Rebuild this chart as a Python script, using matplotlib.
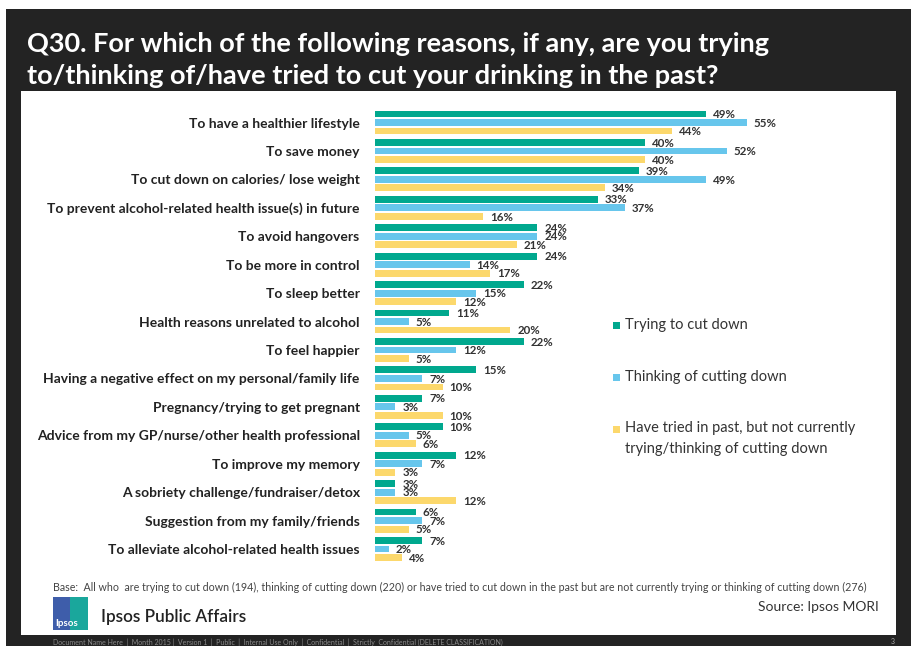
import matplotlib
matplotlib.use("Agg")
import matplotlib.pyplot as plt
from matplotlib.patches import Rectangle
import numpy as np

plt.rcParams['font.family'] = ['Lato', 'DejaVu Sans']

categories = [
    "To have a healthier lifestyle",
    "To save money",
    "To cut down on calories/ lose weight",
    "To prevent alcohol-related health issue(s) in future",
    "To avoid hangovers",
    "To be more in control",
    "To sleep better",
    "Health reasons unrelated to alcohol",
    "To feel happier",
    "Having a negative effect on my personal/family life",
    "Pregnancy/trying to get pregnant",
    "Advice from my GP/nurse/other health professional",
    "To improve my memory",
    "A sobriety challenge/fundraiser/detox",
    "Suggestion from my family/friends",
    "To alleviate alcohol-related health issues",
]
trying = [49, 40, 39, 33, 24, 24, 22, 11, 22, 15, 7, 10, 12, 3, 6, 7]
thinking = [55, 52, 49, 37, 24, 14, 15, 5, 12, 7, 3, 5, 7, 3, 7, 2]
tried = [44, 40, 34, 16, 21, 17, 12, 20, 5, 10, 10, 6, 3, 12, 5, 4]
series_names = ["Trying to cut down", "Thinking of cutting down",
                "Have tried in past, but not currently\ntrying/thinking of cutting down"]
colors = ["#00A88E", "#67C6EC", "#FCD86C"]

W, H = 911, 646
fig = plt.figure(figsize=(W / 100, H / 100), dpi=100)
fig.patch.set_facecolor("white")

def fx(px):
    return px / W

def fy(py):
    return 1 - py / H

dark = "#232323"
# dark frame
fig.patches.append(Rectangle((fx(6), fy(646)), fx(905), (646 - 9) / H,
                             transform=fig.transFigure, facecolor=dark, edgecolor="none", zorder=-2))
# white panel
fig.patches.append(Rectangle((fx(21), fy(635)), fx(875), (635 - 91) / H,
                             transform=fig.transFigure, facecolor="white", edgecolor="none", zorder=-1))

# title
fig.text(fx(27), fy(44), "Q30. For which of the following reasons, if any, are you trying",
         color="white", fontsize=19.5, fontweight="bold", va="center", ha="left")
fig.text(fx(27), fy(76), "to/thinking of/have tried to cut your drinking in the past?",
         color="white", fontsize=19.5, fontweight="bold", va="center", ha="left")

# axes
x0, px_per = 375, 6.76
xmax = 60
top_px, bot_px = 122.5 - 28.43 * 0.6, 549 + 28.43 * 0.6
ax = fig.add_axes([fx(x0), fy(bot_px), xmax * px_per / W, (bot_px - top_px) / H])
ax.set_facecolor("none")
n = len(categories)
y = np.arange(n)
off = 0.3
h = 0.24
data = [trying, thinking, tried]
for k, (vals, c) in enumerate(zip(data, colors)):
    yy = y + (k - 1) * off
    ax.barh(yy, vals, height=h, color=c, edgecolor="none")
    for yi, v in zip(yy, vals):
        ax.annotate(f"{v}%", (v, yi), xytext=(5, -0.5), textcoords="offset points",
                    ha="left", va="center", fontsize=8.3, fontweight="bold", color="#333333")
ax.set_xlim(0, xmax)
ax.set_ylim(n - 0.4, -0.6)
ax.set_yticks(y)
ax.set_yticklabels(categories, fontsize=10, fontweight="bold", color="#222222")
ax.tick_params(axis="y", length=0, pad=11)
ax.set_xticks([])
for s in ax.spines.values():
    s.set_visible(False)

# legend (manual)
leg_y = [325, 377, 429]
for c, name, ly in zip(colors, series_names, leg_y):
    fig.patches.append(Rectangle((fx(613), fy(ly + 3.5)), fx(7), 7 / H,
                                 transform=fig.transFigure, facecolor=c, edgecolor="none"))
    if "\n" in name:
        fig.text(fx(625), fy(ly - 8), name, fontsize=10.5, color="#333333", va="top",
                 ha="left", linespacing=1.6)
    else:
        fig.text(fx(625), fy(ly), name, fontsize=10.5, color="#333333", va="center", ha="left")

# footer
fig.text(fx(53), fy(587), "Base:  All who  are trying to cut down (194), thinking of cutting down (220) or have tried to cut down in the past but are not currently trying or thinking of cutting down (276)",
         fontsize=7.65, color="#444444", va="center", ha="left")
fig.text(fx(879), fy(607), "Source: Ipsos MORI", fontsize=10, color="#333333", va="center", ha="right")
fig.text(fx(101), fy(617), "Ipsos Public Affairs", fontsize=12.3, color="#222222", va="center", ha="left",
         fontweight="semibold")
# logo
fig.patches.append(Rectangle((fx(53), fy(630)), fx(17), 33 / H, transform=fig.transFigure,
                             facecolor="#3E5DAA", edgecolor="none"))
fig.patches.append(Rectangle((fx(70), fy(630)), fx(18), 33 / H, transform=fig.transFigure,
                             facecolor="#1AA79C", edgecolor="none"))
fig.text(fx(55), fy(623), "Ipsos", fontsize=7, color="white", va="center", ha="left", fontweight="bold")

fig.text(fx(53), fy(642), "Document Name Here  |  Month 2015 |  Version 1  |  Public  |  Internal Use Only  |  Confidential  |  Strictly  Confidential (DELETE CLASSIFICATION)",
         fontsize=5, color="#8a8a8a", va="center", ha="left")
fig.text(fx(895), fy(642), "3", fontsize=5, color="#aaaaaa", va="center", ha="right")

fig.savefig("out.png", dpi=100, facecolor=fig.get_facecolor())
